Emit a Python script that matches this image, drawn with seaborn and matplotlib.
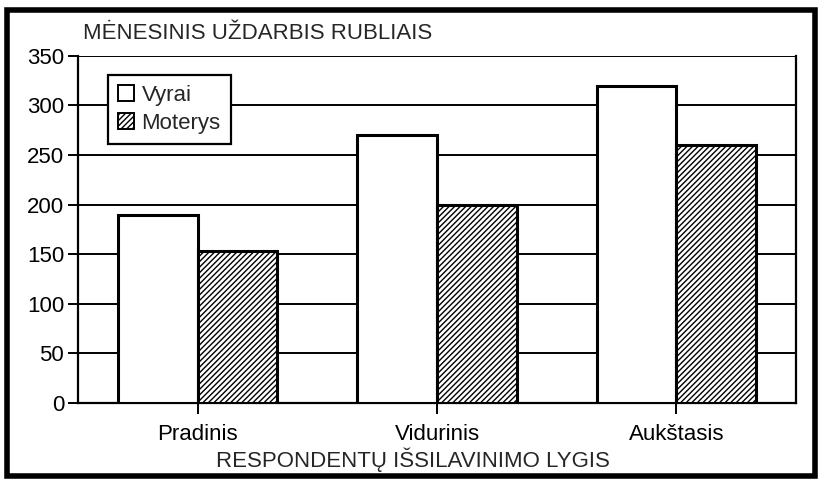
import pandas as pd
import matplotlib
matplotlib.use("Agg")
import matplotlib.pyplot as plt
import seaborn as sns
from matplotlib.patches import Patch, Rectangle

categories = ["Pradinis", "Vidurinis", "Aukštasis"]
vyrai = [190, 270, 320]
moterys = [153, 200, 260]
groups = ["Vyrai", "Moterys"]

df = pd.DataFrame({
    "Lygis": categories * 2,
    "Lytis": [groups[0]] * 3 + [groups[1]] * 3,
    "Uzdarbis": vyrai + moterys,
})

sns.set_style("white")
plt.rcParams["font.family"] = ["Liberation Sans", "DejaVu Sans"]
plt.rcParams["hatch.linewidth"] = 1.0

fs = 16
fig = plt.figure(figsize=(8.22, 4.82), dpi=100)
ax = fig.add_axes([0.0949, 0.164, 0.8735, 0.72])

sns.barplot(data=df, x="Lygis", y="Uzdarbis", hue="Lytis", order=categories,
            hue_order=groups, palette=["white", "white"], edgecolor="black",
            linewidth=2.2, width=0.667, legend=False, ax=ax, zorder=3)

n = len(categories)
for i, p in enumerate(ax.patches):
    if i >= n:
        p.set_hatch("//////")

ax.set_xlim(-0.5, 2.5)
ax.set_ylim(0, 350)
ax.set_yticks(range(0, 351, 50))
ax.yaxis.grid(True, color="black", linewidth=1.4, zorder=0)
ax.set_axisbelow(True)
for s in ["left", "right", "bottom"]:
    ax.spines[s].set_color("black")
    ax.spines[s].set_linewidth(1.6)
ax.spines["top"].set_visible(False)
ax.tick_params(axis="y", direction="out", length=7, width=1.4, colors="black",
               labelsize=fs, pad=3, left=True)
ax.tick_params(axis="x", direction="out", length=8, width=1.4, colors="black",
               labelsize=fs, pad=7, bottom=True)
ax.set_xlabel("RESPONDENTŲ IŠSILAVINIMO LYGIS", fontsize=fs, labelpad=2)
ax.xaxis.label.set_x(0.466)
ax.set_ylabel("")

handles = [Patch(facecolor="white", edgecolor="black", linewidth=1.4),
           Patch(facecolor="white", edgecolor="black", linewidth=1.4, hatch="//////")]
leg = ax.legend(handles, groups, loc="upper left", bbox_to_anchor=(0.042, 0.945),
                borderaxespad=0, fontsize=fs, fancybox=False, framealpha=1,
                handlelength=0.7, handleheight=0.7, handletextpad=0.35,
                borderpad=0.45, labelspacing=0.3)
leg.get_frame().set_edgecolor("black")
leg.get_frame().set_linewidth(1.6)
leg.set_zorder(5)

fig.text(0.101, 1 - 39 / 482, "MĖNESINIS UŽDARBIS RUBLIAIS", fontsize=fs,
         va="baseline", ha="left")

fig.patches.append(Rectangle((0.008, 0.012), 0.984, 0.968, transform=fig.transFigure,
                             fill=False, edgecolor="black", linewidth=4))

fig.savefig("out.png", dpi=100)
